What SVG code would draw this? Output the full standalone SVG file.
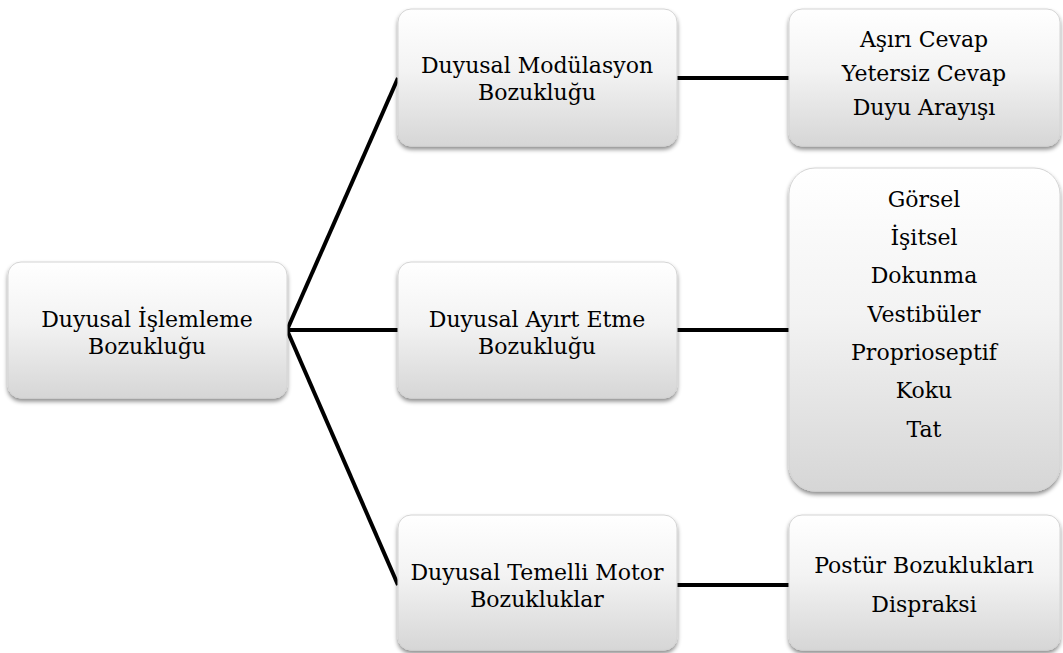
<svg xmlns="http://www.w3.org/2000/svg" width="1063" height="653" viewBox="0 0 1063 653">
  <style>
    .box { fill: url(#boxFill); stroke: #d4d4d4; stroke-width: 1; filter: url(#shadow); }
    text { font-family: 'DejaVu Serif', serif; font-size: 22px; fill: #000; text-anchor: middle; }
    .link { stroke: #000; stroke-width: 4; fill: none; stroke-linecap: butt; }
  </style>
  <defs>
    <linearGradient id="boxFill" x1="0" y1="0" x2="0" y2="1">
      <stop offset="0" stop-color="#ffffff"/>
      <stop offset="0.45" stop-color="#f3f3f3"/>
      <stop offset="1" stop-color="#d6d6d6"/>
    </linearGradient>
    <filter id="shadow" x="-10%" y="-10%" width="120%" height="130%">
      <feDropShadow dx="0" dy="3" stdDeviation="2" flood-color="#000" flood-opacity="0.45"/>
    </filter>
  </defs>

  <g id="connectors">
    <line class="link" x1="287" y1="330" x2="398" y2="78"/>
    <line class="link" x1="287" y1="330" x2="398" y2="330"/>
    <line class="link" x1="287" y1="330" x2="398" y2="585"/>
    <line class="link" x1="677" y1="78" x2="789" y2="78"/>
    <line class="link" x1="677" y1="330" x2="789" y2="330"/>
    <line class="link" x1="677" y1="585" x2="789" y2="585"/>
  </g>

  <g id="node-root">
    <rect class="box" x="8" y="262" width="279" height="136" rx="13"/>
    <text x="147" y="327">Duyusal İşlemleme</text>
    <text x="147" y="354">Bozukluğu</text>
  </g>

  <g id="node-modulation">
    <rect class="box" x="398" y="9" width="279" height="137" rx="13"/>
    <text x="537" y="73">Duyusal Modülasyon</text>
    <text x="537" y="100">Bozukluğu</text>
  </g>

  <g id="node-discrimination">
    <rect class="box" x="398" y="262" width="279" height="136" rx="13"/>
    <text x="537" y="327">Duyusal Ayırt Etme</text>
    <text x="537" y="354">Bozukluğu</text>
  </g>

  <g id="node-motor">
    <rect class="box" x="398" y="515" width="279" height="135" rx="13"/>
    <text x="537" y="580">Duyusal Temelli Motor</text>
    <text x="537" y="607">Bozukluklar</text>
  </g>

  <g id="node-modulation-types">
    <rect class="box" x="789" y="9" width="271" height="137" rx="13"/>
    <text x="924" y="47">Aşırı Cevap</text>
    <text x="924" y="81">Yetersiz Cevap</text>
    <text x="924" y="115">Duyu Arayışı</text>
  </g>

  <g id="node-senses">
    <rect class="box" x="789" y="168" width="271" height="323" rx="26"/>
    <text x="924" y="207">Görsel</text>
    <text x="924" y="245">İşitsel</text>
    <text x="924" y="283">Dokunma</text>
    <text x="924" y="322">Vestibüler</text>
    <text x="924" y="360">Proprioseptif</text>
    <text x="924" y="398">Koku</text>
    <text x="924" y="437">Tat</text>
  </g>

  <g id="node-motor-types">
    <rect class="box" x="789" y="515" width="271" height="135" rx="13"/>
    <text x="924" y="573">Postür Bozuklukları</text>
    <text x="924" y="612">Dispraksi</text>
  </g>
</svg>
